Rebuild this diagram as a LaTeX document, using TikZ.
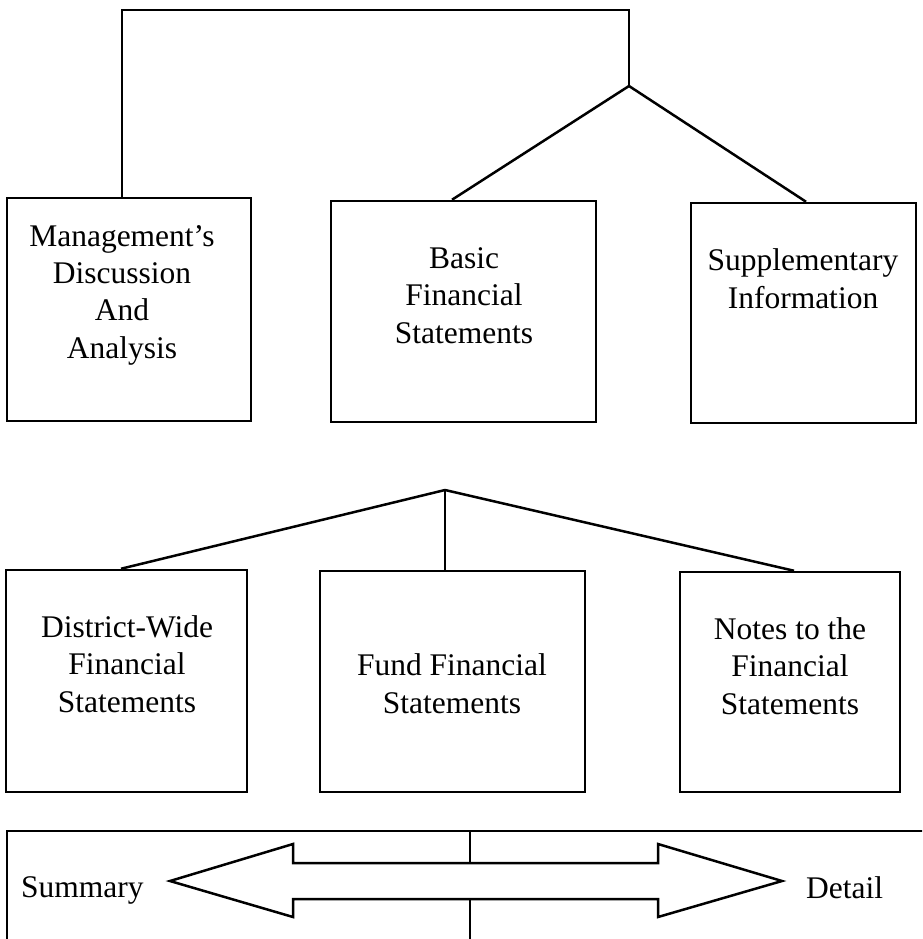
\documentclass[tikz,border=0pt]{standalone}
\usepackage{fontspec}
\setmainfont{Liberation Serif}
\begin{document}
\begin{tikzpicture}[x=1pt,y=-1pt,
  box/.style={draw,line width=2.5pt,rectangle,inner sep=0pt},
  lbl/.style={align=center,anchor=base,inner sep=0pt,font=\fontsize{31.5}{37.3}\selectfont},
  conn/.style={line width=2.5pt,line join=miter},
]
\useasboundingbox (0,0) rectangle (922,939);
\clip (0,0) rectangle (922,939);
% top row boxes
\node[box,minimum width=244pt,minimum height=223pt] (mda) at (129,309.5) {};
\node[box,minimum width=265pt,minimum height=221pt] (basic) at (463.5,311.5) {};
\node[box,minimum width=225pt,minimum height=220pt] (supp) at (803.5,313) {};
% bottom row boxes
\node[box,minimum width=241pt,minimum height=222pt] (dw) at (126.5,681) {};
\node[box,minimum width=265pt,minimum height=221pt] (fund) at (452.5,681.5) {};
\node[box,minimum width=220pt,minimum height=220pt] (notes) at (790,682) {};
% texts (base anchor = baseline of last line)
\node[lbl] (mdaT) at (122,358) {Management’s\\Discussion\\And\\Analysis};
\node[lbl] (basicT) at (464,343) {Basic\\Financial\\Statements};
\node[lbl] (suppT) at (803,308) {Supplementary\\Information};
\node[lbl] (dwT) at (127,712) {District-Wide\\Financial\\Statements};
\node[lbl] (fundT) at (452,713) {Fund Financial\\Statements};
\node[lbl] (notesT) at (790,714) {Notes to the\\Financial\\Statements};
% top connectors
\coordinate (topL) at (122,10);
\coordinate (topR) at (629,10);
\coordinate (apexA) at (629,86);
\coordinate (bJoin) at (452,0);
\coordinate (sJoin) at (806,0);
\draw[conn] (mda.north -| topL) -- (topL) -- (topR) -- (apexA);
\draw[conn] (apexA) -- (basic.north -| bJoin);
\draw[conn] (apexA) -- (supp.north -| sJoin);
% middle connectors
\coordinate (apexB) at (445,490);
\coordinate (dwJoin) at (121,0);
\coordinate (nJoin) at (794,0);
\draw[conn] (apexB) -- (dw.north -| dwJoin);
\draw[conn] (apexB) -- (fund.north -| apexB);
\draw[conn] (apexB) -- (notes.north -| nJoin);
% bottom scale panel
\node[draw,line width=1.8pt,rectangle,inner sep=0pt,minimum width=1000pt,minimum height=200pt,anchor=north west] (panel) at (6,830) {};
\coordinate (divTop) at (470,830);
\coordinate (divBot) at (470,960);
\coordinate (shaftT) at (470,863);
\coordinate (shaftB) at (470,899);
\draw[line width=1.5pt] (divTop) -- (shaftT);
\draw[line width=1.5pt] (shaftB) -- (divBot);
\draw[line width=2.5pt,line join=miter] (170,881) -- (293,844) -- (293,863) -- (658,863) -- (658,844) -- (782,881) -- (658,917) -- (658,899) -- (293,899) -- (293,917) -- cycle;
\node[anchor=base west,inner sep=0pt,font=\fontsize{31.5}{37.3}\selectfont] (summary) at (21,897) {Summary};
\node[anchor=base west,inner sep=0pt,font=\fontsize{31.5}{37.3}\selectfont] (detail) at (806,898) {Detail};
\end{tikzpicture}
\end{document}
